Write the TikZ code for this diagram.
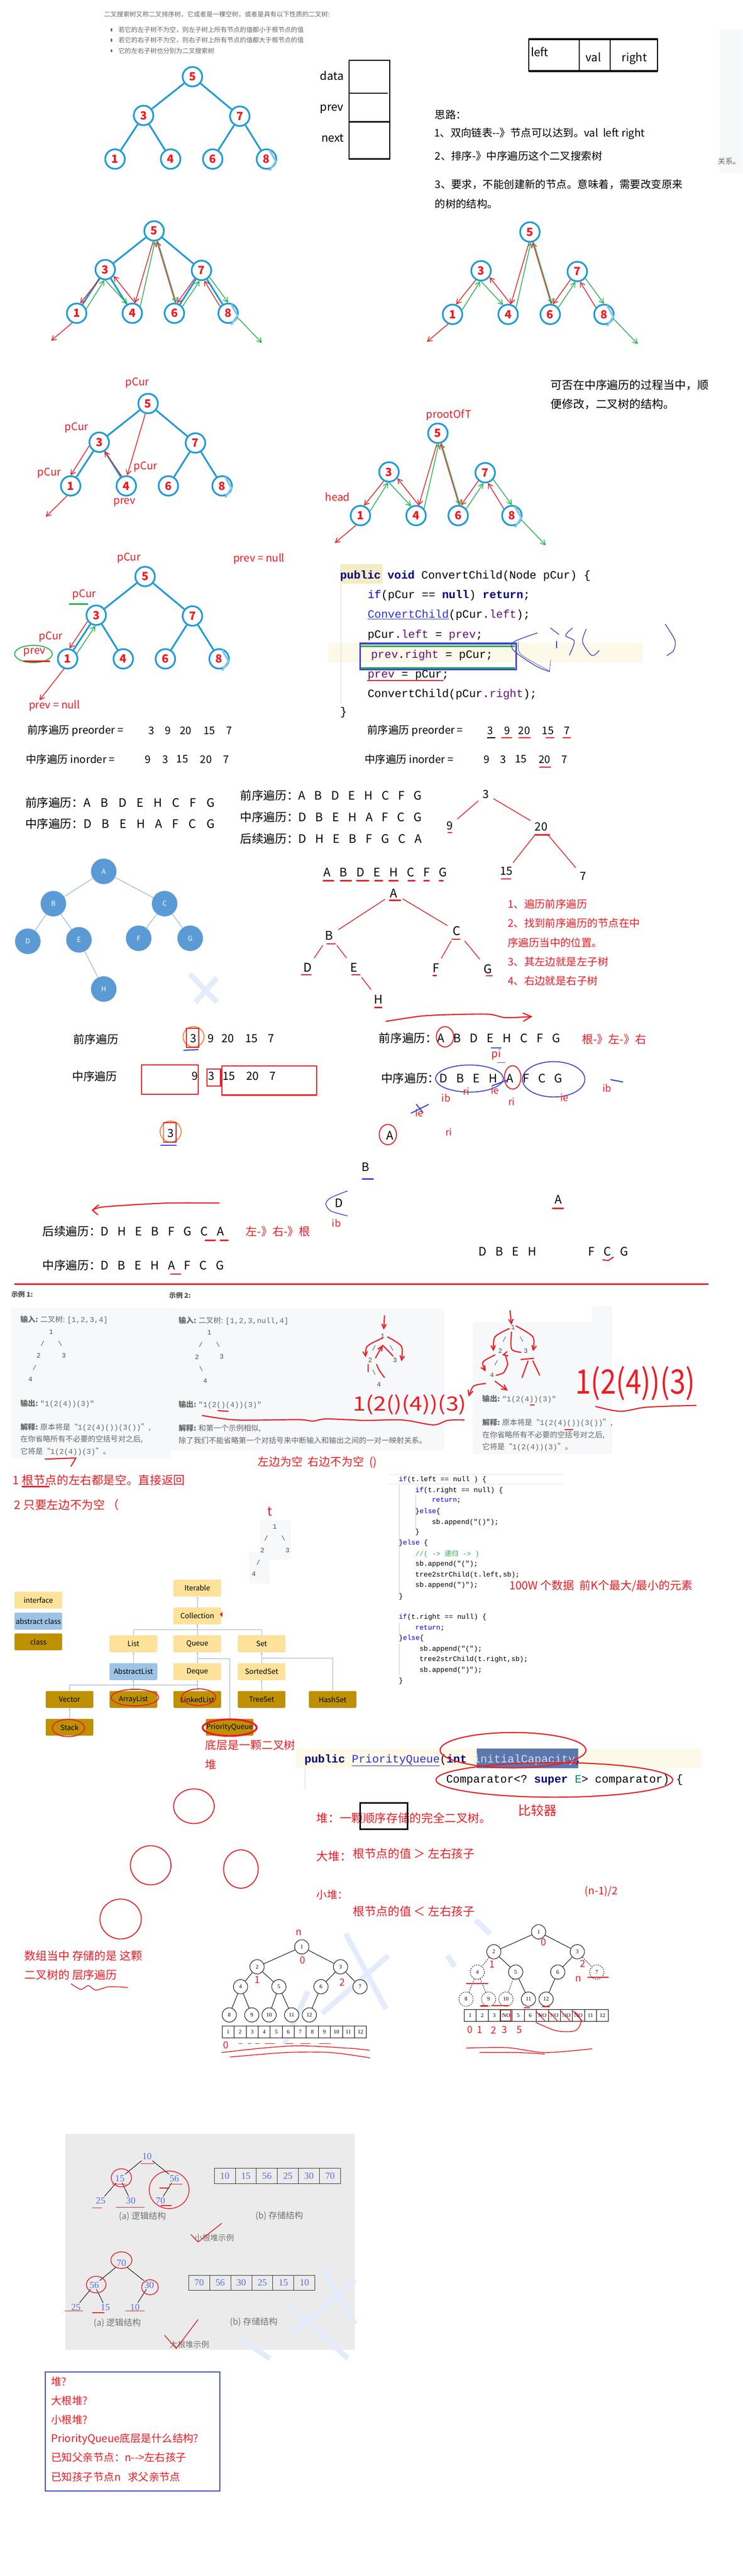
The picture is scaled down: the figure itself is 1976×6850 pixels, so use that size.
\documentclass[tikz,border=0pt]{standalone}
\usepackage{fontspec}
\setmainfont{Noto Sans CJK SC}
\setmonofont{Liberation Mono}
\newfontfamily\serf{Liberation Serif}
\usetikzlibrary{arrows.meta}
\usetikzlibrary{shapes.geometric}
\definecolor{treeblue}{HTML}{1F9AD8}
\definecolor{nodeblue}{HTML}{5B9BD5}
\definecolor{inkred}{HTML}{ED1C24}
\definecolor{inkgreen}{HTML}{22B14C}
\definecolor{inkblue}{HTML}{3F48CC}
\definecolor{inkorange}{HTML}{FF7F27}
\definecolor{panelc}{HTML}{F7F8FA}
\definecolor{bandc}{HTML}{FDF9E8}
\definecolor{kwband}{HTML}{F5ECC6}
\definecolor{selc}{HTML}{5B77AB}
\definecolor{gtext}{HTML}{666666}
\definecolor{kwnavy}{HTML}{000080}
\definecolor{field}{HTML}{660E7A}
\definecolor{linkb}{HTML}{3030E0}
\definecolor{linkc}{HTML}{8FB0D0}
\definecolor{ifill}{HTML}{FFE299}
\definecolor{afill}{HTML}{9DC3E6}
\definecolor{cfill}{HTML}{BF9000}
\definecolor{wmark}{HTML}{E4EBFB}
\newcommand{\fsz}[1]{\fontsize{#1}{#1}\selectfont}
\newcommand{\wide}[1]{\spaceskip=#1pt\relax}
\newcommand{\kw}[1]{\textcolor{kwnavy}{\textbf{#1}}}
\newcommand{\fd}[1]{\textcolor{field}{#1}}
\newcommand{\jb}[1]{\textcolor{blue}{#1}}
\newcommand{\fsl}{/}
\newcommand{\bsl}{\textbackslash}
\newcommand{\bst}[3]{%
  \begin{scope}[shift={(#2,#3)}]
    \foreach \v/\x/\y in {5/0/0,3/-130/103,7/126/105,1/-206/219,4/-58/219,6/54/219,8/197/219}
      \node[bnode] (#1n\v) at (\x,\y) {\v};
    \draw[eightmark] (205,195) -- (222,225) -- (205,250);
    \coordinate (#1lo) at (-274,292);
    \coordinate (#1hi) at (287,298);
  \end{scope}}
\newcommand{\bstedges}[1]{%
  \foreach \a/\b in {5/3,5/7,3/1,3/4,7/6,7/8}
    \draw (#1n\a) edge[bedge] (#1n\b);}
\newcommand{\threads}[1]{%
  \draw (#1n3.240) edge[rarrow] (#1n1.70);
  \draw (#1n1.25) edge[garrow] (#1n3.265);
  \draw (#1n3.270) edge[garrow] (#1n4.118);
  \draw (#1n4.75) edge[rarrow] (#1n3.323);
  \draw (#1n5.265) edge[rarrow] (#1n4.75);
  \draw (#1n4.41) edge[garrow] (#1n5.275);
  \draw (#1n6.85) edge[rarrow] (#1n5.285);
  \draw (#1n5.290) edge[garrow] (#1n6.80);
  \draw (#1n7.230) edge[rarrow] (#1n6.75);
  \draw (#1n6.40) edge[garrow] (#1n7.260);
  \draw (#1n8.140) edge[rarrow] (#1n7.285);
  \draw (#1n7.320) edge[garrow] (#1n8.90);
  \draw (#1n1.245) edge[rarrow] (#1lo);
  \draw (#1n8.335) edge[garrow] (#1hi);}
\begin{document}
\begin{tikzpicture}[
    x=1pt, y=-1pt,
    bnode/.style={circle, draw=treeblue, line width=4.5pt, fill=white, minimum size=52pt, inner sep=0pt, font=\fsz{30}\bfseries, text=inkred},
    bedge/.style={draw=treeblue, line width=4.5pt},
    eightmark/.style={draw=treeblue!55, line width=5pt},
    rarrow/.style={draw=inkred, line width=2pt, -{Straight Barb[length=12pt,width=14pt]}},
    garrow/.style={draw=inkgreen, line width=2pt, -{Straight Barb[length=12pt,width=14pt]}},
    redpen/.style={draw=inkred, line width=3pt, line cap=round, line join=round},
    thinpen/.style={draw=inkred, line width=2pt, line cap=round, line join=round},
    bluepen/.style={draw=inkblue, line width=2pt, line cap=round, line join=round},
    redring/.style={draw=inkred, line width=2.5pt, ellipse, inner sep=0pt},
    blacktxt/.style={inner sep=0pt, anchor=west, font=\fsz{28}},
    centertxt/.style={inner sep=0pt, font=\fsz{28}},
    redtxt/.style={inner sep=0pt, anchor=west, font=\fsz{28}, text=inkred},
    redlab/.style={inner sep=0pt, font=\fsz{28}, text=inkred},
    graytxt/.style={inner sep=0pt, anchor=west, font=\fsz{17}, text=gtext},
    paneltxt/.style={inner sep=0pt, anchor=west, font=\fsz{20}, text=gtext},
    paneltre/.style={inner sep=0pt, font=\fsz{18}\ttfamily, text=black!70},
    codetxt/.style={inner sep=0pt, anchor=west, font=\fsz{30}\ttfamily},
    smallcode/.style={inner sep=0pt, anchor=west, font=\fsz{18.5}\ttfamily},
    letter/.style={inner sep=7pt, font=\fsz{32}},
    bluenode/.style={circle, fill=nodeblue, minimum size=68pt, inner sep=0pt, font=\fsz{18}, text=white},
    thinedge/.style={draw=linkc, line width=1.5pt},
    ibox/.style={draw=ifill!80!black, dashed, fill=ifill, rounded corners=3pt, minimum width=126pt, minimum height=44pt, inner sep=0pt, font=\fsz{19}},
    abox/.style={ibox, solid, draw=afill!80!black, fill=afill},
    cbox/.style={ibox, solid, draw=cfill!80!black, fill=cfill},
    rel/.style={draw=linkc, line width=1.2pt, -{Latex[length=5pt,width=4pt]}},
    hnode/.style={circle, draw, line width=1.3pt, minimum size=38pt, inner sep=0pt, font=\fsz{15}\serf, fill=white},
    hdash/.style={hnode, dashed},
    hedge/.style={draw, line width=1.3pt},
    hdedge/.style={hedge, dashed},
    cell/.style={draw, line width=1.2pt, minimum width=32pt, minimum height=31pt, inner sep=0pt, font=\fsz{15}\serf, fill=white},
    gcell/.style={draw=black!80, line width=1.2pt, minimum width=56pt, minimum height=40pt, inner sep=0pt, font=\fsz{25}\serf, text=linkc!60!blue},
    gnum/.style={inner sep=3pt, font=\fsz{25}\serf, text=linkc!60!blue},
    gcap/.style={inner sep=0pt, font=\fsz{23}, text=black!55},
    watermark/.style={draw=wmark, line width=14pt},
    ]
\useasboundingbox (0,0) rectangle (1976,6850);
% panels and background marks
\fill[panelc] (1915,78) rectangle (1976,460);
\fill[panelc] (30,3477) rectangle (454,3878);
\fill[panelc] (454,3480) rectangle (1182,3857);
\fill[panelc] (1257,3515) rectangle (1629,3866);
\fill[panelc] (1575,3471) rectangle (1629,3515);
\fill[panelc] (693,4043) rectangle (774,4147);
\fill[panelc] (663,4126) rectangle (718,4212);
\fill[bandc] (874,1710) rectangle (1711,1762);
\fill[kwband] (905,1500) rectangle (1018,1552);
\fill[bandc] (788,4650) rectangle (1867,4702);
\fill[selc] (1269,4650) rectangle (1539,4702);
\fill[black!8] (174,5675) rectangle (944,6248);
\draw[watermark] (505,2590) -- (577,2665);
\draw[watermark] (577,2600) -- (520,2665);
\draw[watermark] (920,5142) -- (1027,5342);
\draw[watermark] (1033,5200) -- (857,5354);
\draw[watermark] (819,5295) -- (756,5437);
\draw[watermark] (1266,5106) -- (1304,5142);
\draw[watermark] (1190,5200) -- (1210,5230);
\draw[watermark] (857,6032) -- (945,6180);
\draw[watermark] (762,6121) -- (926,6272);
\draw[watermark] (643,6221) -- (718,6272);
\draw[watermark] (945,6062) -- (781,6204);
% heading
\node[graytxt] (head0) at (277,38) {二叉搜索树又称二叉排序树，它或者是一棵空树，或者是具有以下性质的二叉树:};
\node[graytxt] (head1) at (315,80) {若它的左子树不为空，则左子树上所有节点的值都小于根节点的值};
\node[graytxt] (head2) at (315,107) {若它的右子树不为空，则右子树上所有节点的值都大于根节点的值};
\node[graytxt] (head3) at (315,135) {它的左右子树也分别为二叉搜索树};
\foreach \y/\n in {80/a,107/b,135/c}
  \node[fill=gtext, minimum width=4pt, minimum height=8pt, inner sep=0pt] (dot\n) at (297,\y) {};
% first trees
\bst{ta}{512}{204}
\bstedges{ta}
\bst{tb}{410}{614}
\bstedges{tb}
\threads{tb}
\bst{tc}{1410}{617}
\threads{tc}
% list node
\draw[line width=3.5pt] (929,160) rectangle (1037,423);
\draw[line width=3.5pt] (929,248) -- (1032,248);
\draw[line width=3.5pt] (929,324) -- (1037,324);
\node[centertxt, font=\fsz{30}] (ldata) at (883,201) {data};
\node[centertxt, font=\fsz{30}] (lprev) at (883,290) {prev};
\node[centertxt, font=\fsz{30}] (lnext) at (885,367) {next};
\draw[line width=3pt] (1407,104) rectangle (1750,189);
\draw[line width=5.5pt] (1407,104) -- (1750,104);
\draw[line width=5.5pt] (1407,189) -- (1750,189);
\draw[line width=3pt] (1541,104) -- (1541,189);
\draw[line width=3pt] (1623,104) -- (1623,189);
\node[centertxt, font=\fsz{30}] (nleft) at (1436,138) {left};
\node[centertxt, font=\fsz{30}] (nval) at (1579,152) {val};
\node[centertxt, font=\fsz{30}] (nright) at (1688,155) {right};
\node[blacktxt] (idea0) at (1157,305) {思路：};
\node[blacktxt] (idea1) at (1155,356) {1、双向链表-{}-》节点可以达到。val\ \ left right};
\node[blacktxt] (idea2) at (1157,415) {2、排序-》中序遍历这个二叉搜索树};
\node[blacktxt] (idea3) at (1157,490) {3、要求，不能创建新的节点。意味着，需要改变原来};
\node[blacktxt] (idea4) at (1157,542) {的树的结构。};
\node[inner sep=0pt, font=\fsz{20}, text=gtext] (guanxi) at (1940,429) {关系。};
% pCur tree
\bst{td}{394}{1073}
\bstedges{td}
\draw (tdn3.200) edge[rarrow] (tdn1.90);
\draw (tdn4.115) edge[rarrow] (tdn3.300);
\draw (tdn5.255) edge[rarrow] (tdn4.85);
\coordinate (tdnull) at (122,1374);
\draw (tdn1.250) edge[rarrow] (tdnull);
\node[redlab] (pca) at (365,1018) {pCur};
\node[redlab] (pcb) at (204,1137) {pCur};
\node[redlab] (pcc) at (131,1258) {pCur};
\node[redlab] (pcd) at (387,1241) {pCur};
\node[redlab] (pva) at (331,1336) {prev};
\bst{te}{1165}{1152}
\threads{te}
\node[redlab] (rootoft) at (1194,1104) {prootOfT};
\node[redlab] (headl) at (898,1322) {head};
\node[blacktxt, font=\fsz{30}] (canq) at (1465,1024) {可否在中序遍历的过程当中，顺};
\node[blacktxt, font=\fsz{30}] (canr) at (1465,1075) {便修改，二叉树的结构。};
% prev tree
\bst{tf}{386}{1533}
\bstedges{tf}
\draw (tfn3.215) edge[rarrow] (tfn1.80);
\draw (tfn1.30) edge[garrow] (tfn3.265);
\coordinate (tfnull) at (105,1862);
\draw (tfn1.250) edge[rarrow] (tfnull);
\node[redlab] (pce) at (343,1484) {pCur};
\node[redlab] (pvb) at (689,1486) {prev = null};
\node[redlab] (pcf) at (224,1581) {pCur};
\draw[draw=inkgreen, line width=3.5pt] (183,1606) -- (234,1606);
\node[redlab] (pcg) at (135,1693) {pCur};
\node[redlab] (pvc) at (92,1735) {prev};
\draw[inkgreen, line width=2.5pt] (89,1739) ellipse (50 and 23);
\draw[redpen, line width=3.5pt] (63,1758) -- (132,1758);
\node[redlab] (pvd) at (145,1876) {prev = null};
\node[blacktxt] (prel) at (73,1943) {前序遍历 preorder =};
\foreach \t/\x in {3/403,9/447,20/494,15/557,7/610}
  \node[centertxt] (pa\t) at (\x,1943) {\t};
\node[blacktxt] (prer) at (977,1943) {前序遍历 preorder =};
\foreach \t/\x in {3/1304,9/1349,20/1395,15/1458,7/1508}
  \node[centertxt] (pb\t) at (\x,1943) {\t};
\draw[line width=3.5pt] (1296,1962) -- (1318,1962);
\foreach \x/\w in {1335/26,1381/30,1453/21,1498/20}
  \draw[redpen, line width=3.5pt] (\x,1962) -- ++(\w,0);
% code
\draw[black!15, line width=1pt] (907,1552) -- (907,1870);
\node[codetxt] (cl1) at (905,1531) {\kw{public} \kw{void} ConvertChild(Node pCur) \{};
\node[codetxt] (cl2) at (978,1583) {\jb{if}(pCur == \kw{null}) \kw{return};};
\node[codetxt] (cl3) at (978,1636) {\textcolor{linkb}{\underline{ConvertChild}}(pCur.\fd{left});};
\node[codetxt] (cl4) at (978,1689) {pCur.\fd{left} = \fd{prev};};
\node[codetxt] (cl5) at (987,1743) {\fd{prev}.\fd{right} = pCur;};
\node[codetxt] (cl6) at (978,1795) {\fd{prev} = pCur;};
\node[codetxt] (cl7) at (978,1846) {ConvertChild(pCur.\fd{right});};
\node[codetxt] (cl8) at (905,1895) {\}};
\draw[inkblue, line width=4.5pt] (958,1711) rectangle (1373,1780);
\draw[inkgreen, line width=3.5pt] (961,1719) -- (1370,1719);
\draw[inkgreen, line width=4pt] (961,1776) -- (1370,1776);
\draw[redpen, line width=3.5pt] (978,1810) -- (1179,1810);
\draw[bluepen] plot[smooth] coordinates {(1430,1683) (1367,1707) (1367,1730) (1424,1770) (1462,1786)};
\draw[bluepen, line width=1pt] plot[smooth] coordinates {(1380,1707) (1386,1740) (1462,1784)};
\draw[bluepen, line width=1pt] (1465,1755) -- (1462,1786);
\draw[bluepen] (1465,1670) -- (1487,1687);
\draw[bluepen] (1481,1705) -- (1481,1723);
\draw[bluepen] plot[smooth] coordinates {(1523,1670) (1505,1690) (1528,1705) (1515,1742)};
\draw[bluepen] plot[smooth] coordinates {(1560,1673) (1550,1707) (1575,1743) (1594,1730)};
\draw[bluepen] plot[smooth] coordinates {(1770,1660) (1796,1703) (1792,1730) (1774,1743)};
% traversals
\node[blacktxt] (inl) at (69,2019) {中序遍历 inorder =};
\foreach \t/\x in {9/394,3/440,15/485,20/548,7/601}
  \node[centertxt] (ia\t) at (\x,2019) {\t};
\node[blacktxt] (inr) at (970,2019) {中序遍历 inorder =};
\foreach \t/\x in {9/1295,3/1339,15/1386,20/1449,7/1502}
  \node[centertxt] (ib\t) at (\x,2019) {\t};
\draw[redpen, line width=3.5pt] (1436,2040) -- (1465,2040);
\node[blacktxt, font=\fsz{31}\wide{27}] (ta1) at (67,2134) {前序遍历：A B D E H C F G};
\node[blacktxt, font=\fsz{31}\wide{27}] (ta2) at (67,2191) {中序遍历：D B E H A F C G};
\node[blacktxt, font=\fsz{31}\wide{24}] (tb1) at (639,2115) {前序遍历：A B D E H C F G};
\node[blacktxt, font=\fsz{31}\wide{24}] (tb2) at (639,2172) {中序遍历：D B E H A F C G};
\node[blacktxt, font=\fsz{31}\wide{24}] (tb3) at (639,2230) {后续遍历：D H E B F G C A};
% number tree
\foreach \t/\x/\y in {3/1293/2112,9/1197/2195,20/1440/2199,15/1347/2317,7/1551/2330}
  \node[letter, inner sep=12pt, font=\fsz{30}] (nu\t) at (\x,\y) {\t};
\foreach \a/\b in {3/9,3/20,20/15,20/7}
  \draw (nu\a) edge[thinpen] (nu\b);
\foreach \x/\y/\w in {1192/2214/10,1423/2220/39,1334/2337/25}
  \draw[redpen, line width=3.5pt] (\x,\y) -- ++(\w,0);
% letter tree
\node[blacktxt, font=\fsz{31}\wide{24}] (lrow) at (861,2319) {A B D E H C F G};
\foreach \x/\w in {860/28,906/29,949/32,997/21,1035/24,1086/18,1128/14,1169/10}
  \draw[redpen, line width=3.5pt] (\x,2342) -- ++(\w,0);
\foreach \t/\x/\y in {A/1048/2376,B/876/2488,C/1215/2476,D/819/2573,E/942/2573,F/1160/2574,G/1298/2577,H/1007/2657}
  \node[letter, inner sep=14pt] (le\t) at (\x,\y) {\t};
\foreach \a/\b in {A/B,A/C,B/D,B/E,C/F,C/G,E/H}
  \draw (le\a) edge[thinpen] (le\b);
\foreach \x/\y/\w in {1036/2394/30,870/2510/22,1202/2497/22,802/2592/26,936/2592/22,1152/2594/9,1294/2595/16,997/2679/19}
  \draw[redpen, line width=3pt] (\x,\y) -- ++(\w,0);
\foreach \t/\y in {1、遍历前序遍历/2404,2、找到前序遍历的节点在中/2455,序遍历当中的位置。/2507,3、其左边就是左子树/2557,4、右边就是右子树/2608}
  \node[redtxt, font=\fsz{28}] (st\y) at (1351,\y) {\t};
% blue tree
\foreach \t/\x/\y in {A/276/2317,B/142/2403,C/438/2403,D/74/2503,E/210/2499,F/369/2495,G/506/2495,H/276/2630}
  \node[bluenode] (bl\t) at (\x,\y) {\t};
\foreach \a/\b in {A/B,A/C,B/D,B/E,C/F,C/G,E/H}
  \draw (bl\a) edge[thinedge] (bl\b);
% rebuild, preorder row
\node[centertxt, font=\fsz{30}] (rp) at (255,2763) {前序遍历};
\foreach \t/\x in {3/515,9/561,20/606,15/669,7/722}
  \node[centertxt, font=\fsz{30}] (rpa\t) at (\x,2762) {\t};
\node[centertxt, font=\fsz{30}] (ri) at (252,2862) {中序遍历};
\foreach \t/\x in {9/518,3/563,15/609,20/672,7/726}
  \node[centertxt, font=\fsz{30}] (ria\t) at (\x,2862) {\t};
\draw[inkorange, line width=2.5pt] (515,2757) ellipse (28 and 27);
\draw[inkred, line width=2.5pt] (496,2735) rectangle (529,2785);
\draw[bluepen, line width=3pt] (489,2793) -- (527,2791);
\draw[inkred, line width=3pt] (377,2832) rectangle (527,2910);
\draw[inkred, line width=3pt] (551,2843) rectangle (587,2888);
\draw[inkred, line width=3pt] (591,2834) rectangle (842,2912);
\node[centertxt, font=\fsz{30}] (rc) at (454,3014) {3};
\draw[inkorange, line width=2.5pt] (454,3009) ellipse (28 and 28);
\draw[inkred, line width=2.5pt] (435,2985) rectangle (469,3037);
\draw[bluepen, line width=3pt] (428,3045) -- (469,3045);
% rebuild, letters
\coordinate (prea) at (1027,2716);
\coordinate (preb) at (1417,2703);
\draw[redpen, -{Straight Barb[length=22pt,width=22pt]}] plot[smooth] coordinates {(prea) (1120,2702) (1200,2698) (1300,2697) (1345,2706) (preb)};
\node[blacktxt, font=\fsz{31}\wide{24}] (bpre) at (1008,2760) {前序遍历：A B D E H C F G};
\node[redring, minimum width=46pt, minimum height=54pt] (ra) at (1184,2757) {};
\node[redlab, font=\fsz{30}] (gzy) at (1634,2763) {根-》左-》右};
\draw[bluepen, line width=3pt] (1307,2786) -- (1333,2786);
\node[redlab] (pil) at (1320,2804) {pi};
\draw[bluepen, line width=1pt] (1323,2825) -- (1344,2825);
\node[blacktxt, font=\fsz{31}\wide{24}] (bin) at (1014,2867) {中序遍历：D B E H A F C G};
\draw[inkblue, line width=2.5pt] (1249,2868) ellipse (90 and 36);
\draw[inkred, line width=2.5pt] (1364,2865) ellipse (22 and 31);
\draw[inkblue, line width=2.5pt] (1473,2870) ellipse (83 and 47);
\foreach \t/\x/\y/\n in {ib/1187/2920/a,ri/1241/2902/b,ie/1317/2899/c,ri/1361/2929/d,ie/1502/2918/e,ib/1615/2893/f,ie/1116/2960/g,ri/1194/3010/h,ib/895/3252/i}
  \node[redlab, font=\fsz{26}] (m\n) at (\x,\y) {\t};
\draw[bluepen, line width=3pt] (1625,2871) -- (1657,2877);
\draw[bluepen, line width=3pt] (1310,2887) -- (1348,2873);
\draw[bluepen, line width=3pt] (1094,2960) -- (1140,2937);
\draw[bluepen, line width=3pt] (1108,2937) -- (1125,2958);
\node[centertxt, font=\fsz{31}] (la) at (1038,3020) {A};
\draw[inkred, line width=2.5pt] (1032,3017) ellipse (23 and 27);
\node[centertxt, font=\fsz{31}] (lb) at (973,3103) {B};
\draw[bluepen, line width=3.5pt] (964,3135) -- (993,3135);
\node[centertxt, font=\fsz{31}] (ld) at (902,3199) {D};
\draw[bluepen] plot[smooth] coordinates {(924,3167) (880,3185) (867,3201) (880,3220) (924,3233)};
\node[centertxt, font=\fsz{31}] (ltop) at (1486,3190) {A};
\draw[redpen, line width=3.5pt] (1470,3213) -- (1499,3213);
\node[centertxt, font=\fsz{31}\wide{24}] (lbl) at (1350,3328) {D B E H};
\node[centertxt, font=\fsz{31}\wide{24}] (lbr) at (1618,3328) {F C G};
\draw[redpen] (1604,3350) -- (1618,3352) -- (1632,3343);
\coordinate (posa) at (583,3199);
\coordinate (posb) at (246,3218);
\draw[redpen] plot[smooth] coordinates {(posa) (450,3199) (350,3204) (270,3210) (posb)};
\draw[redpen] (262,3204) -- (posb) -- (260,3230);
\node[blacktxt, font=\fsz{31}\wide{24}] (bpost) at (113,3274) {后续遍历：D H E B F G C A};
\node[redlab, font=\fsz{30}] (zyg) at (740,3275) {左-》右-》根};
\draw[redpen, line width=3.5pt] (546,3298) -- (573,3298);
\draw[redpen, line width=3.5pt] (586,3298) -- (607,3298);
\node[blacktxt, font=\fsz{31}\wide{24}] (bin2) at (113,3365) {中序遍历：D B E H A F C G};
\draw[redpen, line width=3.5pt] (454,3388) -- (481,3388);
\draw[inkred, line width=3.5pt] (39,3415) -- (1885,3415);
% examples
\node[graytxt, font=\fsz{18}\bfseries, text=black!70] (ex1) at (30,3442) {示例 1:};
\node[graytxt, font=\fsz{18}\bfseries, text=black!70] (ex2) at (450,3445) {示例 2:};
\node[paneltxt] (ea1) at (54,3509) {\textbf{输入:} 二叉树: \texttt{[1,2,3,4]}};
\node[paneltxt] (ea2) at (54,3733) {\textbf{输出:} \texttt{"1(2(4))(3)"}};
\node[paneltxt] (ea3) at (54,3796) {\textbf{解释:} 原本将是“\texttt{1(2(4)())(3())}”,};
\node[paneltxt] (ea4) at (54,3828) {在你省略所有不必要的空括号对之后,};
\node[paneltxt] (ea5) at (54,3860) {它将是“\texttt{1(2(4))(3)}”。};
\node[paneltxt] (eb1) at (475,3512) {\textbf{输入:} 二叉树: \texttt{[1,2,3,null,4]}};
\node[paneltxt] (eb2) at (475,3736) {\textbf{输出:} \texttt{"1(2()(4))(3)"}};
\node[paneltxt] (eb3) at (475,3799) {\textbf{解释:} 和第一个示例相似,};
\node[paneltxt] (eb4) at (475,3831) {除了我们不能省略第一个对括号来中断输入和输出之间的一对一映射关系。};
\node[paneltxt] (ec2) at (1283,3721) {\textbf{输出:} \texttt{"1(2(4))(3)"}};
\node[paneltxt] (ec3) at (1283,3784) {\textbf{解释:} 原本将是“\texttt{1(2(4)())(3())}”,};
\node[paneltxt] (ec4) at (1283,3816) {在你省略所有不必要的空括号对之后,};
\node[paneltxt] (ec5) at (1283,3848) {它将是“\texttt{1(2(4))(3)}”。};
\foreach \t/\x/\y/\n in {1/136/3541/a,\fsl/113/3573/b,\bsl/160/3573/c,2/103/3605/d,3/170/3605/e,\fsl/92/3637/f,4/81/3668/g,
    1/557/3543/h,\fsl/534/3576/i,\bsl/580/3576/j,2/524/3608/k,3/590/3608/l,\bsl/535/3640/m,4/546/3672/n,
    1/1018/3552/o,\fsl/995/3585/p,\bsl/1042/3585/q,2/985/3617/r,3/1051/3617/s,\bsl/995/3649/t,4/1008/3681/u,
    1/1365/3529/v,\fsl/1342/3561/w,\bsl/1388/3561/x,2/1331/3592/y,3/1399/3593/z,\fsl/1320/3625/A,4/1309/3657/B,
    1/731/4059/C,\fsl/708/4091/D,\bsl/754/4091/E,2/698/4122/F,3/765/4122/G,\fsl/687/4155/H,4/675/4186/I}
  \node[paneltre] (pt\n) at (\x,\y) {\t};
% red scribbles on the examples
\draw[redpen, -{Straight Barb[length=12pt,width=12pt]}] (1023,3499) -- (1021,3536);
\draw[redpen, -{Straight Barb[length=12pt,width=12pt]}] plot[smooth] coordinates {(1018,3558) (977,3580) (973,3609)};
\draw[redpen, -{Straight Barb[length=12pt,width=12pt]}] plot[smooth] coordinates {(1031,3555) (1068,3580) (1068,3620)};
\draw[redpen, -{Straight Barb[length=12pt,width=12pt]}] (999,3611) -- (1018,3577);
\draw[redpen] (1018,3577) -- (1046,3606);
\draw[redpen] (980,3628) -- (980,3648);
\draw[redpen] plot[smooth] coordinates {(1002,3628) (1010,3645) (1023,3663)};
\draw[redpen, -{Straight Barb[length=12pt,width=12pt]}] (1357,3485) -- (1361,3523);
\draw[redpen, -{Straight Barb[length=12pt,width=12pt]}] plot[smooth] coordinates {(1355,3533) (1317,3555) (1313,3593)};
\draw[redpen, -{Straight Barb[length=12pt,width=12pt]}] plot[smooth] coordinates {(1373,3526) (1418,3555) (1418,3593)};
\draw[redpen] plot[smooth] coordinates {(1361,3542) (1361,3587) (1386,3596)};
\draw[redpen, -{Straight Barb[length=12pt,width=12pt]}] plot[smooth] coordinates {(1317,3603) (1285,3622) (1292,3647)};
\draw[redpen, -{Straight Barb[length=12pt,width=12pt]}] plot[smooth] coordinates {(1351,3628) (1345,3605) (1336,3603)};
\draw[redpen] plot[smooth] coordinates {(1351,3628) (1340,3650) (1320,3657)};
\draw[redpen] (1386,3615) -- (1420,3612);
\draw[redpen] (1405,3619) -- (1389,3663);
\draw[redpen] (1418,3619) -- (1436,3657);
\draw[redpen, -{Straight Barb[length=14pt,width=14pt]}] plot[smooth] coordinates {(1292,3679) (1260,3686) (1247,3714)};
\draw[redpen, -{Straight Barb[length=14pt,width=14pt]}] (1317,3673) -- (1351,3698);
\node[redlab, font=\fsz{50}] (hwa) at (1090,3736) {\scalebox{1.23}[1.05]{1(2()(4))(3)}};
\node[redlab, font=\fsz{56}] (hwb) at (1690,3678) {\scalebox{1.34}[1.6]{1(2(4))(3)}};
\draw[redpen] plot[smooth] coordinates {(538,3764) (630,3776) (794,3775) (832,3779) (869,3773) (970,3777) (1071,3776) (1153,3789) (1191,3777) (1235,3776)};
\draw[redpen] plot[smooth] coordinates {(1585,3740) (1651,3753) (1720,3742) (1852,3737)};
\draw[redpen] (580,3751) -- (607,3753);
\draw[redpen] (1411,3736) -- (1421,3736);
\draw[redpen] (1503,3802) -- (1524,3802);
\draw[redpen] (120,3880) -- (202,3877) -- (189,3899);
\node[redlab, font=\fsz{30}] (zbwk) at (844,3888) {左边为空\ \ 右边不为空\ \ ()};
\node[redtxt, font=\fsz{31}] (rule1) at (34,3936) {1 根节点的左右都是空。直接返回};
\draw[redpen, line width=3.5pt] (59,3953) -- (130,3953);
\node[redtxt, font=\fsz{31}] (rule2) at (38,4002) {2 只要左边不为空 （};
\node[redlab, font=\fsz{34}] (tlab) at (718,4019) {t};
% tree2str code
\foreach \x/\ya/\yb in {1062/3948/4240,1106/3975/4065,1062/4315/4345,1062/4372/4455}
  \draw[black!20, line width=1pt] (\x,\ya) -- (\x,\yb);
\draw[black!10, line width=2pt] (1036,3920) -- (1497,3920);
\draw[black!10, line width=2pt] (1036,3946) -- (1497,3946);
\foreach \x/\y/\t/\n in {1061/3935/{\jb{if}(t.left == null ) \{}/a,1105/3963/{\jb{if}(t.right == null) \{}/b,1149/3990/{\jb{return};}/c,
    1105/4019/{\}\jb{else}\{}/d,1149/4048/{sb.append("()");}/e,1105/4075/{\}}/f,1061/4103/{\}\jb{else} \{}/g,
    1105/4132/{\textcolor{inkgreen}{//( -> {\rmfamily 递归} -> )}}/h,1105/4159/{sb.append("(");}/i,1105/4188/{tree2strChild(t.left,sb);}/j,
    1105/4216/{sb.append(")");}/k,1061/4245/{\}}/l,1061/4300/{\jb{if}(t.right == null) \{}/m,1105/4329/{\jb{return};}/n,
    1061/4357/{\}\jb{else}\{}/o,1116/4385/{sb.append("(");}/p,1116/4413/{tree2strChild(t.right,sb);}/q,1116/4441/{sb.append(")");}/r,1061/4470/{\}}/s}
  \node[smallcode] (sc\n) at (\x,\y) {\t};
\node[redtxt, font=\fsz{30}] (topk) at (1355,4217) {100W 个数据\ \ 前K个最大/最小的元素};
% class diagram
\node[ibox] (binterface) at (102,4255) {interface};
\node[abox] (babstract) at (102,4311) {abstract class};
\node[cbox] (bclass) at (102,4366) {class};
\node[ibox] (iterable) at (525,4223) {Iterable};
\node[ibox, below of=iterable, node distance=74pt] (collection) {Collection};
\node[ibox, below of=collection, node distance=74pt] (queue) {Queue};
\node[ibox, left of=queue, node distance=170pt] (list) {List};
\node[ibox, right of=queue, node distance=171pt] (set) {Set};
\node[abox, below of=list, node distance=74pt] (abstractlist) {AbstractList};
\node[ibox, below of=queue, node distance=74pt] (deque) {Deque};
\node[ibox, below of=set, node distance=74pt] (sortedset) {SortedSet};
\node[cbox, below of=abstractlist, node distance=74pt] (arraylist) {ArrayList};
\node[cbox, below of=deque, node distance=74pt] (linkedlist) {LinkedList};
\node[cbox, below of=sortedset, node distance=74pt] (treeset) {TreeSet};
\node[cbox, left of=arraylist, node distance=170pt] (vector) {Vector};
\node[cbox, right of=treeset, node distance=189pt] (hashset) {HashSet};
\node[cbox, below of=vector, node distance=74pt] (stack) {Stack};
\node[cbox] (pqueue) at (611,4593) {PriorityQueue};
\coordinate (busa) at (525,4334);
\coordinate (busb) at (611,4410);
\coordinate (busc) at (885,4409);
\coordinate (busd) at (355,4481);
\draw (collection) edge[rel] (iterable);
\draw (queue) edge[rel] (collection);
\draw[rel] (list.north) |- (busa) -- (collection.south);
\draw[rel] (set.north) |- (busa) -- (collection.south);
\draw (abstractlist) edge[rel] (list);
\draw (deque) edge[rel] (queue);
\draw (sortedset) edge[rel] (set);
\draw (treeset) edge[rel] (sortedset);
\draw (linkedlist) edge[rel] (deque);
\draw (arraylist) edge[rel] (abstractlist);
\draw (stack) edge[rel] (vector);
\draw[rel] (pqueue.north) -- (busb) -- (busb -| queue.south) -- (queue.south);
\draw[rel] (hashset.north) -- (busc) -- (busc -| set.south) -- (set.south);
\draw[rel] (vector.north) |- (busd) -- (abstractlist.south);
\draw[linkc, line width=1.2pt] (busd) -- (busd -| deque.south);
\fill[inkred] (592,4286) -- (592,4300) -- (585,4293) -- cycle;
\draw[inkred, line width=2.5pt] (359,4514) ellipse (63 and 22);
\draw[inkred, line width=2.5pt] (529,4513) ellipse (45 and 22);
\draw[inkred, line width=2.5pt] (182,4595) ellipse (43 and 23);
\draw[inkred, line width=5pt] (611,4594) ellipse (72 and 22);
\node[redtxt, font=\fsz{30}] (dc) at (546,4641) {底层是一颗二叉树};
\node[redtxt, font=\fsz{30}] (duia) at (546,4692) {堆};
% priority queue constructor
\draw[black!15, line width=1pt] (812,4702) -- (812,4760);
\node[codetxt] (pq1) at (810,4681) {\kw{public} \textcolor{linkb}{\underline{PriorityQueue}}(\kw{int} \textcolor{white!85!blue}{initialCapacity},};
\node[codetxt] (pq2) at (1187,4733) {Comparator<? \kw{super} \textcolor{teal}{E}> comparator) \{};
\draw[inkred, line width=3pt] (1365,4654) ellipse (194 and 47);
\draw[inkred, line width=3pt] (1475,4733) ellipse (315 and 46);
\node[redlab, font=\fsz{34}] (bjq) at (1430,4814) {比较器};
\node[redtxt, font=\fsz{31}] (duib) at (842,4834) {堆：一颗顺序存储的完全二叉树。};
\draw[line width=3.5pt] (958,4794) rectangle (1084,4864);
\node[redtxt, font=\fsz{31}] (duic) at (842,4936) {大堆：};
\node[redtxt, font=\fsz{31}] (duid) at (939,4929) {根节点的值 ＞ 左右孩子};
\node[redtxt, font=\fsz{28}] (duie) at (842,5038) {小堆：};
\node[redtxt, font=\fsz{31}] (duif) at (939,5083) {根节点的值 ＜ 左右孩子};
\node[redlab, font=\fsz{28}] (parent) at (1600,5030) {(n-1)/2};
\draw[inkred, line width=2.5pt] (516,4803) ellipse (54 and 46);
\draw[inkred, line width=2.5pt] (401,4960) ellipse (54 and 52);
\draw[inkred, line width=2.5pt] (641,4970) ellipse (46 and 51);
\draw[inkred, line width=2.5pt] (321,5103) ellipse (55 and 53);
\node[redtxt, font=\fsz{30}] (arra) at (65,5201) {数组当中 存储的是 这颗};
\node[redtxt, font=\fsz{30}] (arrb) at (65,5252) {二叉树的 层序遍历};
\draw[thinpen] plot[smooth] coordinates {(189,5275) (215,5290) (235,5280) (255,5292) (290,5283) (340,5285)};
% heap trees
\foreach \v/\x/\y in {1/803/5177,2/684/5230,3/906/5230,4/640/5283,5/742/5283,6/854/5283,7/958/5283,8/610/5358,9/670/5358,10/716/5358,11/776/5358,12/823/5358}
  \node[hnode] (lh\v) at (\x,\y) {\v};
\foreach \a/\b in {1/2,1/3,2/4,2/5,3/6,3/7,4/8,4/9,5/10,5/11,6/12}
  \draw (lh\a) edge[hedge] (lh\b);
\foreach \v [count=\i] in {1,...,12}
  \node[cell] (lc\i) at ({575+32*\i},5403) {\v};
\foreach \v/\x/\y in {1/1433/5137,2/1314/5190,3/1536/5190,5/1372/5244,6/1484/5244,11/1406/5316,12/1453/5316}
  \node[hnode] (rh\v) at (\x,\y) {\v};
\foreach \v/\x/\y in {4/1270/5244,7/1588/5244,8/1240/5316,9/1300/5316,10/1346/5316}
  \node[hdash] (rh\v) at (\x,\y) {\v};
\foreach \a/\b in {1/2,1/3,2/5,3/6,5/11,6/12}
  \draw (rh\a) edge[hedge] (rh\b);
\foreach \a/\b in {2/4,3/7,4/8,4/9,5/10}
  \draw (rh\a) edge[hdedge] (rh\b);
\foreach \v [count=\i] in {1,2,3,NO,5,6,NO,NO,NO,NO,11,12}
  \node[cell] (rc\i) at ({1219+32*\i},5359) {\v};
\foreach \t/\x/\y/\n in {n/795/5139/a,0/805/5212/b,1/685/5265/c,2/911/5271/d,0/601/5439/e,0/1447/5165/f,1/1310/5224/g,2/1550/5222/h,n/1539/5262/i,0/1250/5398/j,1/1277/5398/k,2/1314/5398/l,3/1342/5398/m,5/1382/5398/o}
  \node[redlab, font=\fsz{26}] (hr\n) at (\x,\y) {\t};
\draw[thinpen] plot[smooth] coordinates {(590,5458) (700,5446) (800,5440) (935,5447) (983,5452)};
\draw[thinpen] plot[smooth] coordinates {(612,5470) (760,5458) (880,5458) (983,5472)};
\foreach \x/\w in {636/8,660/8,680/10,705/25,760/20,800/25,850/30}
  \draw[thinpen] (\x,5434) -- ++(\w,0);
\draw[thinpen] plot[smooth] coordinates {(1241,5446) (1350,5445) (1450,5458) (1575,5448)};
\draw[thinpen] plot[smooth] coordinates {(1276,5458) (1380,5458) (1449,5462)};
\foreach \x/\w/\y in {1241/57/5274,1279/19/5334,1310/44/5333,1395/14/5339,1443/19/5336}
  \draw[redpen] (\x,\y) -- ++(\w,0);
\draw[thinpen] (1564,5258) -- (1619,5258);
\draw[thinpen] (1332,5345) rectangle (1359,5374);
\foreach \x in {1426,1459,1493,1525}
  \draw[thinpen] (\x,5348) -- ++(25,27);
\draw[thinpen] plot[smooth] coordinates {(1426,5378) (1480,5400) (1530,5400) (1546,5375) (1530,5350)};
% gray panel
\foreach \t/\x/\y in {10/391/5734,15/319/5793,56/464/5793,25/268/5852,30/348/5852,70/427/5852}
  \node[gnum] (ga\t) at (\x,\y) {\t};
\foreach \a/\b in {10/15,10/56,15/25,15/30,56/70}
  \draw (ga\a) edge[hedge] (ga\b);
\foreach \v [count=\i] in {10,15,56,25,30,70}
  \node[gcell] (gc\i) at ({542+56*\i},5786) {\v};
\node[gcap] (gcaa) at (379,5894) {(a) 逻辑结构};
\node[gcap] (gcab) at (743,5893) {(b) 存储结构};
\node[gcap, font=\fsz{21}] (gcac) at (570,5951) {小根堆示例};
\foreach \t/\x/\y in {70/323/6017,56/251/6076,30/397/6076,25/202/6135,15/280/6135,10/359/6135}
  \node[gnum] (gb\t) at (\x,\y) {\t};
\foreach \a/\b in {70/56,70/30,56/25,56/15,30/10}
  \draw (gb\a) edge[hedge] (gb\b);
\foreach \v [count=\i] in {70,56,30,25,15,10}
  \node[gcell] (gd\i) at ({474+56*\i},6070) {\v};
\node[gcap] (gcad) at (312,6178) {(a) 逻辑结构};
\node[gcap] (gcae) at (675,6175) {(b) 存储结构};
\node[gcap, font=\fsz{21}] (gcaf) at (504,6234) {大根堆示例};
\draw[inkred, line width=2pt] (323,5791) ellipse (27 and 24);
\draw[inkred, line width=2pt] (450,5823) ellipse (53 and 50);
\draw[inkred, line width=2pt] (323,6010) ellipse (28 and 22);
\draw[inkred, line width=2pt] (256,6075) ellipse (26 and 22);
\draw[inkred, line width=2pt] (399,6082) ellipse (22 and 20);
\foreach \x/\y/\w in {375/5753/35,246/5871/25,309/5870/75,428/5865/28,425/5818/25,451/5808/34,173/6145/47,246/6150/31,334/6145/50,299/5808/35}
  \draw[thinpen] (\x,\y) -- ++(\w,0);
\draw[thinpen] (508,5942) -- (527,5962) -- (590,5912);
\draw[thinpen] (438,6210) -- (469,6245) -- (527,6168);
% questions
\draw[inkblue, line width=2.5pt] (120,6307) rectangle (585,6624);
\foreach \t/\y in {堆?/6333,大根堆?/6384,小根堆?/6435,PriorityQueue底层是什么结构?/6486,已知父亲节点：n-{}->左右孩子/6535,已知孩子节点n\ \ \ 求父亲节点/6586}
  \node[redtxt] (qs\y) at (136,\y) {\t};
\end{tikzpicture}
\end{document}
